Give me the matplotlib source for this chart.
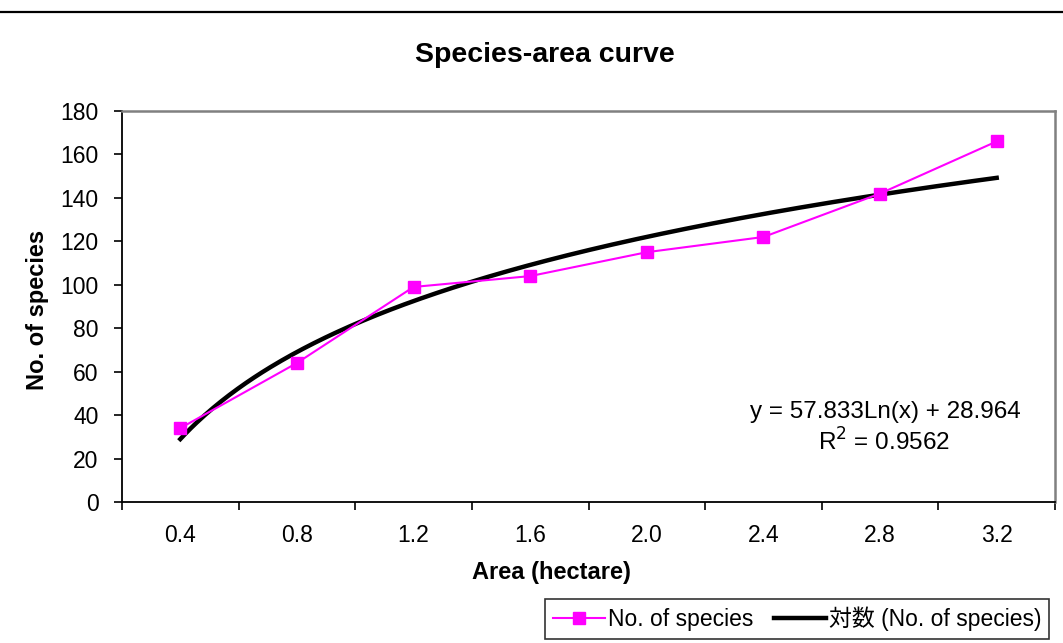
import numpy as np
import matplotlib
matplotlib.use("Agg")
import matplotlib.pyplot as plt
from matplotlib.lines import Line2D
from matplotlib.ticker import FixedLocator, NullFormatter, FixedFormatter

plt.rcParams['font.family'] = ['Liberation Sans', 'Noto Sans CJK JP', 'DejaVu Sans']

# Data
areas = ["0.4", "0.8", "1.2", "1.6", "2.0", "2.4", "2.8", "3.2"]
species = [34, 64, 99, 104, 115, 122, 142, 166]
trend_a = 57.833
trend_b = 28.964
r2 = 0.9562
y_ticks = [0, 20, 40, 60, 80, 100, 120, 140, 160, 180]

W, H = 1063, 643
fig = plt.figure(figsize=(W / 100, H / 100), dpi=100)
ax = fig.add_axes([122 / W, 1 - 502 / H, (1055 - 122) / W, (502 - 111) / H])

idx = np.arange(1, len(areas) + 1)
ax.plot(idx, species, color='#FF00FF', lw=1.5, marker='s', markersize=8,
        markeredgecolor='#FF00FF', label='No. of species', zorder=3)
xs = np.linspace(1, len(areas), 300)
ax.plot(xs, trend_a * np.log(xs) + trend_b, color='black', lw=3.2,
        label='対数 (No. of species)', zorder=2)

ax.set_xlim(0.5, len(areas) + 0.5)
ax.set_ylim(0, 180)
ax.set_yticks(y_ticks)
ax.xaxis.set_major_locator(FixedLocator(np.arange(0.5, len(areas) + 1, 1)))
ax.xaxis.set_major_formatter(NullFormatter())
ax.xaxis.set_minor_locator(FixedLocator(idx))
ax.xaxis.set_minor_formatter(FixedFormatter(areas))
ax.tick_params(axis='x', which='major', length=6, width=1.2, direction='out')
ax.tick_params(axis='x', which='minor', length=0, pad=16, labelsize=16.5)
ax.tick_params(axis='y', length=6, width=1.2, direction='out', labelsize=16.5, pad=11)

for s in ['left', 'bottom']:
    ax.spines[s].set_color('black')
    ax.spines[s].set_linewidth(1.3)
for s in ['top', 'right']:
    ax.spines[s].set_color('#808080')
    ax.spines[s].set_linewidth(1.8)

fig.text(545 / W, 1 - 55 / H, 'Species-area curve', ha='center', va='center',
         fontsize=20.5, fontweight='bold')
fig.text(38 / W, 1 - 310 / H, 'No. of species', ha='center', va='center',
         rotation=90, fontsize=17, fontweight='bold')
fig.text(551 / W, 1 - 573 / H, 'Area (hectare)', ha='center', va='center',
         fontsize=17, fontweight='bold')

fig.text(885 / W, 1 - 412 / H, f'y = {trend_a}Ln(x) + {trend_b}', ha='center',
         va='center', fontsize=17.5)
fig.text(884 / W, 1 - 442 / H, f'R$^2$ = {r2}', ha='center', va='center', fontsize=17.5)

fig.add_artist(Line2D([0, 1], [1 - 12 / H, 1 - 12 / H], color='black', lw=1.6,
                      transform=fig.transFigure))

h, l = ax.get_legend_handles_labels()
leg = fig.legend(h, l, loc='center', bbox_to_anchor=(797 / W, 1 - 619 / H), ncol=2,
                 frameon=True, fancybox=False, edgecolor='black', fontsize=16.5,
                 handlelength=2.3, columnspacing=0.9, handletextpad=0.1,
                 borderpad=0.35, borderaxespad=0)
leg.get_frame().set_linewidth(1.2)

fig.savefig('out.png', dpi=100)
